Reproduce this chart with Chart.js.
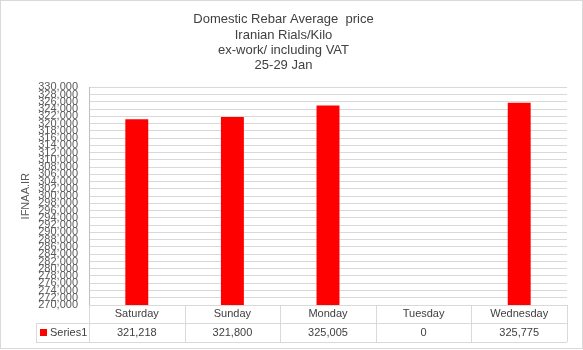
<!DOCTYPE html>
<html>
<head>
<meta charset="utf-8">
<script src="https://cdn.jsdelivr.net/npm/chart.js"></script>
<style>
  body { margin: 0; background: #fff; }
  canvas { display: block; }
</style>
</head>
<body>
<canvas id="rebarChart" width="583" height="350"></canvas>
<script>
// --------- Data ---------
const days = ["Saturday", "Sunday", "Monday", "Tuesday", "Wednesday"];
const prices = [321218, 321800, 325005, 0, 325775];
const seriesName = "Series1";
const titleLines = [
  "Domestic Rebar Average  price",
  "Iranian Rials/Kilo",
  "ex-work/ including VAT",
  "25-29 Jan"
];
const yTicks = [
  270000, 272000, 274000, 276000, 278000, 280000, 282000, 284000,
  286000, 288000, 290000, 292000, 294000, 296000, 298000, 300000,
  302000, 304000, 306000, 308000, 310000, 312000, 314000, 316000,
  318000, 320000, 322000, 324000, 326000, 328000, 330000
];

const FONT = "'Liberation Sans', Arial, sans-serif";
const lineColor = "#d9d9d9";
const textColor = "#404040";

// --------- Data table under the plot ---------
const dataTable = {
  id: "dataTable",
  afterDraw(chart) {
    const { ctx, chartArea } = chart;
    const x = chart.scales.x;
    const colW = (chartArea.right - chartArea.left) / days.length;
    const top = chartArea.bottom;
    const mid = top + 18;
    const bottom = mid + 19;
    const legendLeft = 36;

    ctx.save();
    ctx.strokeStyle = lineColor;
    ctx.lineWidth = 1;
    ctx.beginPath();
    // horizontal rules
    ctx.moveTo(chartArea.left, top + 0.5);
    ctx.lineTo(chartArea.right, top + 0.5);
    ctx.moveTo(legendLeft, mid + 0.5);
    ctx.lineTo(chartArea.right, mid + 0.5);
    ctx.moveTo(legendLeft, bottom + 0.5);
    ctx.lineTo(chartArea.right, bottom + 0.5);
    // vertical rules
    ctx.moveTo(legendLeft + 0.5, mid);
    ctx.lineTo(legendLeft + 0.5, bottom);
    for (let i = 0; i <= days.length; i++) {
      const px = Math.round(chartArea.left + i * colW) + 0.5;
      ctx.moveTo(px, top);
      ctx.lineTo(px, bottom);
    }
    ctx.stroke();

    ctx.font = "11px " + FONT;
    ctx.fillStyle = textColor;
    ctx.textAlign = "center";
    ctx.textBaseline = "middle";
    days.forEach((d, i) => {
      const cx = x.getPixelForValue(i);
      ctx.fillText(d, cx, top + 9);
      ctx.fillText(prices[i].toLocaleString("en-US"), cx, mid + 10);
    });

    // legend key
    ctx.fillStyle = "#ff0000";
    ctx.fillRect(legendLeft + 4, mid + 6, 7, 7);
    ctx.fillStyle = textColor;
    ctx.textAlign = "left";
    ctx.fillText(seriesName, legendLeft + 14, mid + 10);

    // outer frame
    ctx.strokeStyle = lineColor;
    ctx.strokeRect(0.5, 0.5, chart.width - 1, chart.height - 2);
    ctx.restore();
  }
};

new Chart(document.getElementById("rebarChart"), {
  type: "bar",
  data: {
    labels: days,
    datasets: [{
      label: seriesName,
      data: prices,
      backgroundColor: "#ff0000",
      borderWidth: 0,
      categoryPercentage: 1,
      barPercentage: 0.24
    }]
  },
  options: {
    responsive: false,
    animation: false,
    layout: { padding: { left: 0, right: 16, top: 0, bottom: 45 } },
    plugins: {
      legend: { display: false },
      tooltip: { enabled: false },
      title: {
        display: true,
        text: titleLines,
        color: textColor,
        font: { family: FONT, size: 13, weight: "normal", lineHeight: 1.18 },
        padding: { top: 12, bottom: 14 }
      }
    },
    scales: {
      x: { display: false },
      y: {
        min: 270000,
        max: 330000,
        afterBuildTicks: s => { s.ticks = yTicks.map(v => ({ value: v })); },
        afterFit: s => { s.width = 89; },
        border: { color: "#bfbfbf" },
        grid: { color: lineColor, drawTicks: false },
        ticks: {
          autoSkip: false,
          padding: 11,
          color: "#595959",
          font: { family: FONT, size: 11 },
          callback: v => v.toLocaleString("en-US")
        },
        title: {
          display: true,
          text: "IFNAA.IR",
          color: "#595959",
          font: { family: FONT, size: 11 },
          padding: { top: 19, bottom: 0 }
        }
      }
    }
  },
  plugins: [dataTable]
});
</script>
</body>
</html>
